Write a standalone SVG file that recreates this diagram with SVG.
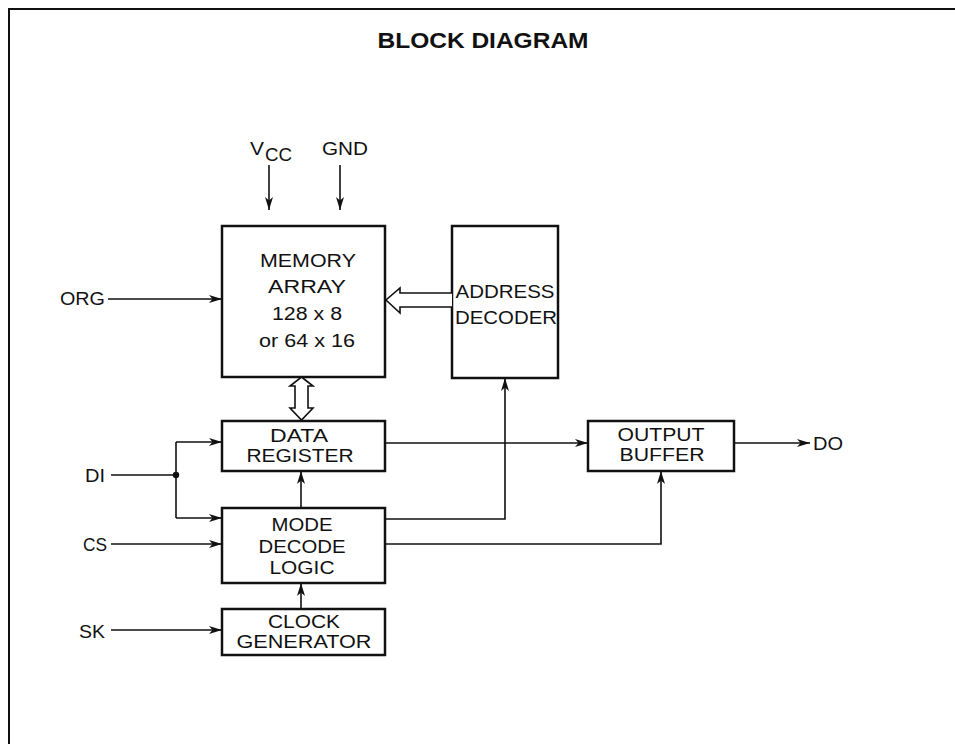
<svg xmlns="http://www.w3.org/2000/svg" width="955" height="744" viewBox="0 0 955 744">
<style>
text{font-family:"Liberation Sans",Arial,sans-serif;font-size:18px;fill:#111;text-anchor:middle}
.t{font-size:22px;font-weight:bold}
.l{text-anchor:start}
.box{fill:#fff;stroke:#111;stroke-width:2.5}
.w{fill:none;stroke:#111;stroke-width:1.6}
.h{fill:#fff;stroke:#111;stroke-width:1.6;stroke-linejoin:miter}
</style>
<defs>
<marker id="a" markerUnits="userSpaceOnUse" markerWidth="14" markerHeight="10" refX="13" refY="4.5" orient="auto">
<path d="M0,0.5 L13,4.5 L0,8.5 L3.5,4.5 z" fill="#111"/>
</marker>
</defs>
<rect width="955" height="744" fill="#fff"/>
<g id="frame">
<path d="M9,744 V9 H955" fill="none" stroke="#111" stroke-width="2"/>
</g>
<text class="t" x="483" y="48" textLength="211" lengthAdjust="spacingAndGlyphs">BLOCK DIAGRAM</text>

<g id="memory-array">
<rect class="box" x="222" y="226" width="163" height="151"/>
<text x="308" y="267" textLength="96" lengthAdjust="spacingAndGlyphs">MEMORY</text>
<text x="307" y="293" textLength="78" lengthAdjust="spacingAndGlyphs">ARRAY</text>
<text x="307" y="320" textLength="70" lengthAdjust="spacingAndGlyphs">128 x 8</text>
<text x="307" y="347" textLength="96" lengthAdjust="spacingAndGlyphs">or 64 x 16</text>
</g>
<g id="address-decoder">
<rect class="box" x="452" y="226" width="106" height="152"/>
<text x="505" y="298" textLength="99" lengthAdjust="spacingAndGlyphs">ADDRESS</text>
<text x="506" y="324" textLength="102" lengthAdjust="spacingAndGlyphs">DECODER</text>
</g>
<g id="data-register">
<rect class="box" x="222" y="421" width="163" height="50"/>
<text x="299" y="442" textLength="58" lengthAdjust="spacingAndGlyphs">DATA</text>
<text x="300" y="462" textLength="107" lengthAdjust="spacingAndGlyphs">REGISTER</text>
</g>
<g id="mode-decode-logic">
<rect class="box" x="222" y="508" width="163" height="75"/>
<text x="302" y="531" textLength="61" lengthAdjust="spacingAndGlyphs">MODE</text>
<text x="302" y="553" textLength="87" lengthAdjust="spacingAndGlyphs">DECODE</text>
<text x="302" y="574" textLength="65" lengthAdjust="spacingAndGlyphs">LOGIC</text>
</g>
<g id="clock-generator">
<rect class="box" x="222" y="609" width="163" height="46"/>
<text x="304" y="628" textLength="72" lengthAdjust="spacingAndGlyphs">CLOCK</text>
<text x="304" y="648" textLength="135" lengthAdjust="spacingAndGlyphs">GENERATOR</text>
</g>
<g id="output-buffer">
<rect class="box" x="588" y="421" width="146" height="50"/>
<text x="661" y="441" textLength="87" lengthAdjust="spacingAndGlyphs">OUTPUT</text>
<text x="662" y="461" textLength="85" lengthAdjust="spacingAndGlyphs">BUFFER</text>
</g>

<g id="labels">
<text class="l" x="250" y="155" textLength="14" lengthAdjust="spacingAndGlyphs">V</text>
<text class="l" x="265" y="161" textLength="27" lengthAdjust="spacingAndGlyphs">CC</text>
<text class="l" x="322" y="155" textLength="46" lengthAdjust="spacingAndGlyphs">GND</text>
<text class="l" x="60" y="305" textLength="45" lengthAdjust="spacingAndGlyphs">ORG</text>
<text class="l" x="85" y="482" textLength="20" lengthAdjust="spacingAndGlyphs">DI</text>
<text class="l" x="83" y="551" textLength="24" lengthAdjust="spacingAndGlyphs">CS</text>
<text class="l" x="79" y="638" textLength="26" lengthAdjust="spacingAndGlyphs">SK</text>
<text class="l" x="813" y="450" textLength="30" lengthAdjust="spacingAndGlyphs">DO</text>
</g>

<g id="connectors">
<line class="w" x1="269" y1="165" x2="269" y2="210" marker-end="url(#a)"/>
<line class="w" x1="340" y1="165" x2="340" y2="210" marker-end="url(#a)"/>
<line class="w" x1="108" y1="299" x2="222" y2="299" marker-end="url(#a)"/>
<path class="h" d="M452,293 H400 V288 L386,300 L400,313 V307 H452"/>
<path class="h" d="M301.5,377 L313,386 H308 V408 H313 L301.5,420 L290,408 H295 V386 H290 z"/>
<line class="w" x1="111" y1="475" x2="176" y2="475"/>
<line class="w" x1="176" y1="442" x2="176" y2="518"/>
<line class="w" x1="176" y1="442" x2="222" y2="442" marker-end="url(#a)"/>
<line class="w" x1="176" y1="518" x2="222" y2="518" marker-end="url(#a)"/>
<circle cx="176" cy="475" r="3.2" fill="#111"/>
<line class="w" x1="111" y1="544" x2="222" y2="544" marker-end="url(#a)"/>
<line class="w" x1="111" y1="630" x2="222" y2="630" marker-end="url(#a)"/>
<line class="w" x1="301" y1="508" x2="301" y2="471" marker-end="url(#a)"/>
<line class="w" x1="301" y1="609" x2="301" y2="583" marker-end="url(#a)"/>
<path class="w" d="M385,519 H505 V378" marker-end="url(#a)"/>
<line class="w" x1="385" y1="443" x2="588" y2="443" marker-end="url(#a)"/>
<path class="w" d="M385,544 H661 V471" marker-end="url(#a)"/>
<line class="w" x1="734" y1="443" x2="810" y2="443" marker-end="url(#a)"/>
</g>
</svg>
